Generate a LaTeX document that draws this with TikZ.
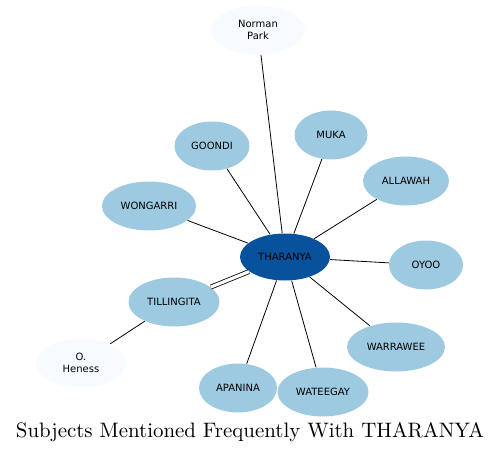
\documentclass[tikz,border=0pt]{standalone}
\usepackage{fontspec}
\usepackage{xcolor}
\usepackage{tikz}
\usetikzlibrary{shapes.geometric}
\newfontfamily\labelfont{DejaVu Sans}
\newfontfamily\capfont{lmroman10-regular}[Extension=.otf]
\definecolor{hubblue}{HTML}{08519C}
\definecolor{subjblue}{HTML}{9ECAE1}
\definecolor{paleblue}{HTML}{F7FBFF}

\begin{document}
\begin{tikzpicture}[x=1pt,y=-1pt,line width=0.8pt,
  every node/.style={ellipse,inner sep=0pt,minimum height=49pt,align=center,
    font=\labelfont\fontsize{10}{11.5}\selectfont},
  hub/.style={fill=hubblue},
  subj/.style={fill=subjblue},
  far/.style={fill=paleblue}]
  \useasboundingbox (0,0) rectangle (499,452);
  % centre
  \node (tharanya) [hub,minimum width=90pt,minimum height=47pt] at (285,257) {THARANYA};
  % upper ring
  \node (norman) [far,minimum width=94pt] at (258,30) {Norman\\Park};
  \node (goondi) [subj,minimum width=75pt] at (212,146) {GOONDI};
  \node (muka) [subj,minimum width=73pt] at (331,135) {MUKA};
  \node (allawah) [subj,minimum width=86pt] at (406,181) {ALLAWAH};
  \node (wongarri) [subj,minimum width=94pt] at (149,206) {WONGARRI};
  \node (oyoo) [subj,minimum width=74pt] at (426,265) {OYOO};
  % lower ring
  \node (tillingita) [subj,minimum width=91pt] at (174,302) {TILLINGITA};
  \node (warrawee) [subj,minimum width=98pt] at (396,347) {WARRAWEE};
  \node (heness) [far,minimum width=90pt] at (81,363) {O.\\Heness};
  \node (apanina) [subj,minimum width=78pt] at (238,388) {APANINA};
  \node (wateegay) [subj,minimum width=91pt] at (323,392) {WATEEGAY};

  \draw (norman) -- (tharanya);
  \draw (tharanya) -- (goondi);
  \draw (tharanya) -- (muka);
  \draw (tharanya) -- (allawah);
  \draw (tharanya) -- (wongarri);
  \draw (tharanya) -- (oyoo);
  \draw[double,double distance=3.2pt] (tharanya) -- (tillingita);
  \draw (tharanya) -- (warrawee);
  \draw (tharanya) -- (apanina);
  \draw (tharanya) -- (wateegay);
  \draw (tillingita) -- (heness);

  \node (caption) [rectangle,minimum height=0pt,anchor=base,
    font=\capfont\fontsize{20.9}{24}\selectfont] at (250,437)
    {Subjects Mentioned Frequently With THARANYA};
\end{tikzpicture}
\end{document}
